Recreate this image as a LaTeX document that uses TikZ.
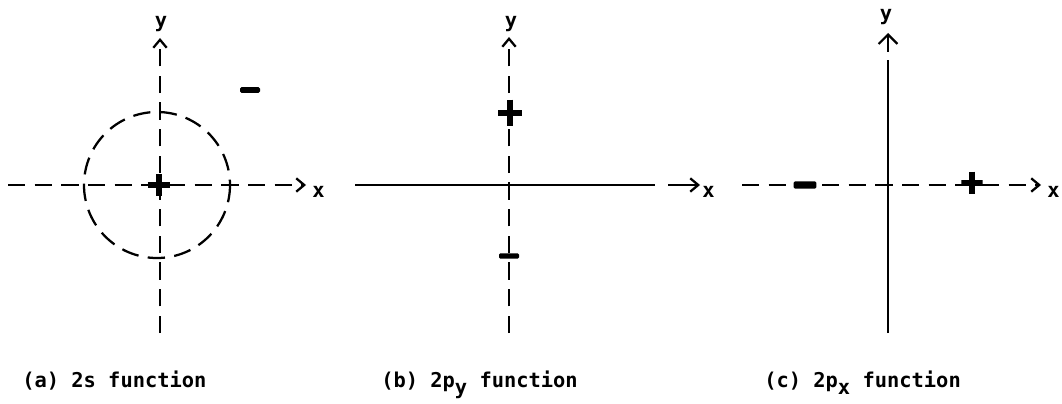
\documentclass[tikz,border=0pt]{standalone}
\usepackage{fontspec}
\setmonofont{DejaVu Sans Mono}
\usepackage{tikz}
\usetikzlibrary{arrows.meta}

\tikzset{
  axis/.style={line width=1.7pt},
  dashaxis/.style={axis, dash pattern=on 13pt off 7pt},
  tip/.style={-{Straight Barb[length=6pt,width=10pt,line width=1.7pt]}},
  bigtip/.style={-{Straight Barb[length=7pt,width=14pt,line width=1.7pt]}},
  lbl/.style={font=\ttfamily\bfseries\fontsize{15.3pt}{18pt}\selectfont, inner sep=0pt},
  minussign/.style={fill=black, inner sep=0pt, rounded corners=1pt},
  plussign/.style={inner sep=0pt,
    path picture={\draw[line width=#1]
      (path picture bounding box.north) -- (path picture bounding box.south)
      (path picture bounding box.west) -- (path picture bounding box.east);}},
  plussign/.default=4pt
}

\begin{document}
\begin{tikzpicture}[x=0.75pt,y=-0.75pt]
  \useasboundingbox (0,0) rectangle (1062,403);

  % (a) 2s
  \coordinate (a-left) at (8,185);
  \coordinate (a-right) at (306,185);
  \coordinate (a-bot) at (160,333);
  \coordinate (a-top) at (160,38);
  \coordinate (a-ctr) at (157,185);
  \draw[dashaxis, tip] (a-left) -- (a-right);
  \draw[dashaxis, tip] (a-bot) -- (a-top);
  \draw[dashaxis] (a-ctr) circle[radius=73];
  \node[lbl, anchor=base west] (a-x) at (312,197) {x};
  \node[lbl, anchor=base] (a-y) at (161,28) {y};
  \node[plussign, minimum width=17pt, minimum height=16.5pt] (a-plus) at (159,185) {};
  \node[minussign, minimum width=15pt, minimum height=4.2pt] (a-minus) at (250,90) {};
  \node[lbl, anchor=base west] (a-cap) at (22,387) {(a) 2s function};

  % (b) 2p_y
  \coordinate (b-left) at (355,185);
  \coordinate (b-right) at (655,185);
  \coordinate (b-arr) at (668,185);
  \coordinate (b-tipx) at (700,185);
  \coordinate (b-bot) at (509,333);
  \coordinate (b-top) at (509,37);
  \draw[axis] (b-left) -- (b-right);
  \draw[axis, tip] (b-arr) -- (b-tipx);
  \draw[dashaxis, tip] (b-bot) -- (b-top);
  \node[lbl, anchor=base west] (b-x) at (702,197) {x};
  \node[lbl, anchor=base] (b-y) at (511,28) {y};
  \node[plussign=4pt, minimum width=18pt, minimum height=20pt] (b-plus) at (510,113) {};
  \node[minussign, minimum width=15pt, minimum height=4pt] (b-minus) at (509,256) {};
  \node[lbl, anchor=base west] (b-cap) at (381,387) {(b) 2p\raisebox{-5.5pt}{y} function};

  % (c) 2p_x
  \coordinate (c-left) at (742,185);
  \coordinate (c-right) at (1041,185);
  \coordinate (c-bot) at (888,333);
  \coordinate (c-top) at (888,60);
  \coordinate (c-arr) at (888,52);
  \coordinate (c-tipy) at (888,33);
  \draw[dashaxis, tip] (c-left) -- (c-right);
  \draw[axis] (c-bot) -- (c-top);
  \draw[axis, bigtip] (c-arr) -- (c-tipy);
  \node[lbl, anchor=base west] (c-x) at (1047,197) {x};
  \node[lbl, anchor=base] (c-y) at (886,21) {y};
  \node[minussign, minimum width=17pt, minimum height=5.5pt] (c-minus) at (805,185) {};
  \node[plussign=4.5pt, minimum width=16pt, minimum height=17pt] (c-plus) at (972,183) {};
  \node[lbl, anchor=base west] (c-cap) at (764,387) {(c) 2p\raisebox{-5.5pt}{x} function};
\end{tikzpicture}
\end{document}
